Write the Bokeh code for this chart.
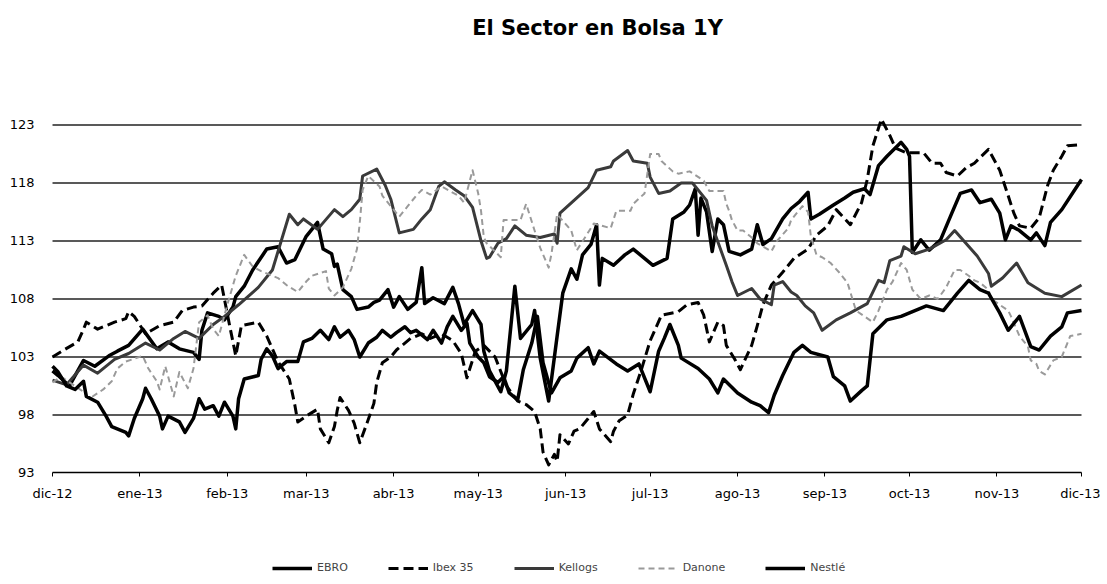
import pandas as pd
from bokeh.plotting import figure
from bokeh.models import FixedTicker, Legend, LegendItem, Range1d, Label
from bokeh.embed import file_html
from bokeh.resources import INLINE

START = "2012-12-01"
END = "2013-12-01"
TITLE = "El Sector en Bolsa 1Y"
MONTH_TICKS = ["2012-12-01", "2013-01-01", "2013-02-01", "2013-03-01", "2013-04-01",
               "2013-05-01", "2013-06-01", "2013-07-01", "2013-08-01", "2013-09-01",
               "2013-10-01", "2013-11-01", "2013-12-01"]
MONTH_LABELS = ["dic-12", "ene-13", "feb-13", "mar-13", "abr-13", "may-13", "jun-13",
                "jul-13", "ago-13", "sep-13", "oct-13", "nov-13", "dic-13"]
Y_TICKS = [93, 98, 103, 108, 113, 118, 123]
Y_MIN = 93

# days since START, and index values
EBRO_DAYS = [0, 2, 6, 11, 15, 20, 23, 27, 32, 37, 41, 45, 50, 52, 53, 55, 59, 61, 64, 65, 68, 71, 76, 80, 83, 86, 90, 94, 96, 99, 100, 101, 103, 106, 108, 112, 114, 116, 119, 121, 123, 126, 129, 131, 132, 135, 139, 142, 144, 146, 149, 152, 153, 155, 159, 161, 164, 166, 170, 171, 173, 176, 179, 181, 184, 186, 188, 191, 193, 194, 195, 199, 203, 206, 210, 213, 218, 220, 224, 226, 228, 229, 230, 232, 234, 236, 238, 240, 244, 248, 250, 252, 255, 259, 262, 265, 268, 269, 272, 277, 281, 284, 288, 290, 293, 296, 301, 303, 304, 305, 308, 311, 315, 319, 322, 326, 329, 333, 336, 338, 340, 343, 347, 349, 352, 354, 358, 365]
EBRO = [101.8, 101.4, 100.5, 102.7, 102.2, 103.1, 103.5, 104.0, 105.4, 103.7, 104.3, 103.7, 103.4, 102.8, 105.3, 106.8, 106.5, 106.2, 107.3, 108.2, 109.1, 110.5, 112.3, 112.5, 111.1, 111.4, 113.4, 114.6, 112.3, 111.9, 110.8, 111.0, 108.8, 108.2, 107.1, 107.3, 107.7, 107.9, 108.8, 107.3, 108.2, 107.1, 107.7, 110.7, 107.6, 108.1, 107.6, 109.0, 107.6, 105.8, 107.0, 105.8, 103.5, 101.8, 100.0, 101.8, 109.1, 104.6, 105.8, 107.0, 102.9, 99.2, 104.8, 108.5, 110.6, 109.7, 111.8, 112.7, 114.4, 109.2, 111.5, 110.9, 111.8, 112.3, 111.5, 110.9, 111.5, 114.9, 115.5, 116.1, 117.5, 113.5, 116.7, 115.5, 112.1, 114.9, 114.4, 112.1, 111.8, 112.3, 114.4, 112.7, 113.2, 114.9, 115.8, 116.4, 117.2, 114.9, 115.3, 116.1, 116.7, 117.2, 117.5, 117.0, 119.5, 120.3, 121.5, 120.9, 120.3, 112.0, 113.1, 112.2, 113.1, 115.4, 117.1, 117.4, 116.3, 116.6, 115.4, 113.1, 114.3, 113.9, 113.1, 113.7, 112.6, 114.6, 115.7, 118.3]

IBEX_DAYS = [0, 4, 9, 11, 12, 16, 19, 22, 26, 27, 29, 33, 38, 43, 46, 50, 53, 57, 60, 63, 65, 67, 73, 76, 80, 84, 86, 87, 90, 94, 95, 98, 100, 101, 102, 105, 107, 109, 112, 114, 115, 117, 120, 122, 125, 127, 131, 134, 138, 142, 145, 147, 150, 153, 157, 161, 165, 168, 171, 173, 174, 176, 178, 179, 180, 183, 185, 187, 190, 192, 194, 198, 199, 201, 204, 206, 209, 212, 216, 222, 225, 229, 231, 233, 236, 238, 239, 242, 244, 248, 250, 252, 255, 259, 263, 268, 271, 275, 278, 283, 287, 289, 291, 294, 297, 299, 303, 309, 312, 315, 317, 321, 324, 327, 332, 334, 336, 339, 341, 343, 347, 350, 353, 355, 358, 360, 365]
IBEX = [103.0, 103.6, 104.3, 105.4, 106.0, 105.4, 105.7, 106.0, 106.3, 106.9, 106.5, 105.0, 105.7, 106.0, 107.0, 107.3, 107.4, 108.5, 109.2, 105.5, 103.1, 105.7, 106.0, 104.8, 102.6, 101.1, 98.8, 97.4, 97.9, 98.5, 96.8, 95.6, 97.0, 98.4, 99.5, 98.4, 97.3, 95.6, 97.6, 99.0, 100.8, 102.5, 103.0, 103.6, 104.2, 104.6, 105.0, 104.6, 105.0, 104.4, 103.3, 101.2, 103.5, 104.0, 103.0, 100.5, 99.2, 98.9, 98.3, 96.8, 94.8, 93.7, 94.6, 94.0, 96.3, 95.5, 96.6, 96.8, 97.7, 98.3, 96.8, 95.7, 96.6, 97.5, 98.0, 99.8, 102.0, 104.4, 106.6, 106.9, 107.5, 107.7, 106.6, 104.3, 106.0, 105.7, 104.0, 102.8, 101.9, 104.0, 105.7, 107.5, 109.2, 110.3, 111.5, 112.3, 113.5, 114.3, 115.7, 114.4, 116.3, 118.3, 121.2, 123.5, 122.1, 121.0, 120.6, 120.6, 119.7, 119.7, 118.9, 118.6, 119.3, 119.7, 120.9, 120.0, 119.1, 116.9, 115.4, 114.3, 114.1, 115.0, 117.8, 119.1, 120.3, 121.2, 121.3]

KELLOGS_DAYS = [0, 5, 11, 16, 22, 27, 33, 38, 43, 47, 52, 57, 61, 66, 73, 78, 84, 87, 89, 94, 100, 103, 106, 109, 110, 115, 118, 120, 123, 128, 131, 134, 137, 139, 143, 146, 149, 152, 154, 155, 158, 161, 164, 168, 173, 178, 179, 180, 185, 190, 193, 198, 199, 204, 206, 211, 212, 215, 219, 223, 227, 232, 234, 239, 241, 243, 248, 251, 255, 256, 259, 262, 264, 267, 270, 273, 278, 283, 289, 293, 295, 297, 301, 302, 306, 311, 317, 320, 324, 328, 332, 333, 337, 342, 346, 352, 358, 365]
KELLOGS = [101.0, 100.6, 102.3, 101.6, 102.8, 103.3, 104.2, 103.6, 104.6, 105.2, 104.6, 105.8, 106.5, 107.5, 109.0, 110.5, 115.3, 114.4, 114.9, 114.0, 115.7, 115.1, 115.7, 116.6, 118.6, 119.2, 117.8, 116.6, 113.7, 114.0, 114.9, 115.7, 117.7, 118.1, 117.4, 116.9, 115.9, 113.0, 111.5, 111.6, 112.8, 113.2, 114.3, 113.5, 113.3, 113.6, 112.8, 115.4, 116.5, 117.6, 119.1, 119.4, 119.9, 120.8, 119.9, 119.7, 118.5, 117.1, 117.3, 118.0, 118.0, 116.5, 114.3, 110.9, 109.5, 108.3, 108.9, 108.0, 107.5, 109.2, 109.5, 108.6, 108.3, 107.4, 106.8, 105.3, 106.2, 106.8, 107.6, 109.6, 109.4, 111.3, 111.7, 112.5, 111.9, 112.3, 113.1, 113.9, 112.8, 111.7, 110.2, 109.1, 109.8, 111.1, 109.4, 108.5, 108.2, 109.2]

DANONE_DAYS = [0, 3, 8, 11, 13, 18, 21, 23, 26, 32, 34, 37, 38, 40, 43, 45, 48, 50, 52, 55, 57, 59, 62, 65, 68, 71, 74, 80, 83, 87, 90, 92, 97, 98, 100, 103, 106, 108, 109, 110, 112, 116, 117, 120, 123, 126, 129, 131, 134, 138, 144, 146, 149, 151, 152, 153, 154, 159, 160, 166, 168, 171, 173, 176, 177, 179, 184, 186, 192, 198, 200, 205, 206, 210, 212, 215, 216, 220, 222, 226, 231, 233, 238, 239, 240, 241, 243, 245, 248, 250, 255, 257, 261, 262, 266, 268, 269, 271, 273, 276, 279, 282, 285, 288, 291, 293, 296, 298, 301, 303, 305, 308, 311, 314, 317, 320, 322, 325, 327, 329, 332, 333, 336, 339, 340, 343, 346, 347, 349, 350, 352, 355, 358, 360, 361, 365]
DANONE = [100.8, 101.3, 100.5, 100.0, 99.4, 100.2, 100.9, 102.0, 102.6, 103.1, 102.0, 100.9, 100.2, 102.2, 99.6, 101.7, 100.3, 102.0, 106.0, 106.6, 105.4, 104.8, 107.5, 110.0, 111.8, 110.8, 110.4, 109.8, 109.2, 108.6, 109.5, 110.0, 110.4, 108.9, 108.3, 109.0, 110.6, 112.3, 114.6, 117.4, 118.6, 117.7, 116.9, 116.0, 115.1, 116.0, 116.9, 117.4, 117.0, 117.7, 116.9, 116.3, 119.1, 117.1, 115.6, 113.3, 112.8, 111.6, 114.8, 114.8, 116.2, 113.9, 112.4, 110.7, 111.9, 115.3, 113.9, 112.2, 114.5, 114.1, 115.6, 115.6, 116.2, 117.1, 120.5, 120.5, 119.9, 119.0, 118.8, 119.0, 118.2, 117.3, 117.3, 116.2, 115.6, 114.8, 113.9, 113.9, 113.3, 112.8, 112.1, 113.0, 114.1, 114.8, 116.0, 115.5, 113.4, 111.8, 111.6, 111.1, 110.3, 109.4, 107.0, 106.5, 106.0, 107.0, 108.8, 109.5, 111.1, 110.5, 108.8, 108.0, 108.3, 108.0, 109.0, 110.5, 110.5, 110.0, 109.6, 109.4, 108.8, 108.0, 107.5, 107.0, 106.5, 104.8, 103.9, 102.7, 102.4, 101.8, 101.5, 102.7, 103.0, 104.2, 104.8, 105.0]

NESTLE_DAYS = [0, 2, 5, 8, 11, 12, 16, 19, 21, 26, 27, 29, 32, 33, 35, 38, 39, 41, 45, 47, 50, 52, 54, 57, 59, 61, 64, 65, 66, 68, 73, 74, 76, 78, 80, 83, 87, 89, 92, 95, 98, 100, 102, 105, 107, 109, 112, 115, 117, 120, 122, 125, 127, 129, 133, 135, 138, 140, 142, 145, 147, 148, 151, 153, 155, 158, 160, 162, 165, 167, 170, 172, 174, 177, 180, 184, 186, 190, 192, 194, 200, 204, 208, 212, 215, 217, 219, 222, 223, 229, 233, 236, 238, 243, 248, 251, 254, 256, 259, 263, 266, 269, 275, 277, 281, 283, 287, 289, 291, 296, 301, 304, 310, 316, 321, 325, 329, 332, 336, 339, 343, 347, 350, 354, 358, 360, 365]
NESTLE = [102.2, 101.7, 100.5, 100.2, 100.9, 99.6, 99.1, 97.9, 97.0, 96.5, 96.2, 97.7, 99.4, 100.3, 99.4, 97.9, 96.8, 97.9, 97.4, 96.5, 97.7, 99.4, 98.5, 98.8, 97.9, 99.1, 97.9, 96.8, 99.4, 101.1, 101.4, 102.8, 103.7, 103.1, 102.0, 102.6, 102.6, 104.3, 104.6, 105.3, 104.5, 105.6, 104.7, 105.3, 104.5, 103.0, 104.2, 104.7, 105.3, 104.7, 105.1, 105.6, 105.1, 105.3, 104.5, 105.3, 104.2, 105.6, 106.5, 105.3, 105.9, 104.2, 103.0, 102.5, 101.3, 100.8, 101.3, 99.9, 99.3, 101.9, 104.2, 106.5, 102.5, 99.9, 101.2, 101.8, 102.9, 103.8, 102.4, 103.5, 102.4, 101.8, 102.4, 100.0, 103.5, 104.6, 105.8, 104.0, 102.9, 102.0, 101.1, 99.9, 101.1, 99.9, 99.1, 98.8, 98.2, 99.7, 101.4, 103.4, 104.0, 103.4, 103.0, 101.3, 100.5, 99.2, 100.1, 100.5, 105.0, 106.2, 106.5, 106.8, 107.4, 107.0, 108.5, 109.6, 108.8, 108.5, 106.8, 105.3, 106.5, 103.9, 103.6, 104.8, 105.6, 106.8, 107.0]

SERIES = [
    ("EBRO", EBRO_DAYS, EBRO, "#000000", 3.5, "solid"),
    ("Ibex 35", IBEX_DAYS, IBEX, "#000000", 3.0, "10 5"),
    ("Kellogs", KELLOGS_DAYS, KELLOGS, "#3a3a3a", 3.0, "solid"),
    ("Danone", DANONE_DAYS, DANONE, "#9a9a9a", 2.0, "6 4"),
    ("Nestlé", NESTLE_DAYS, NESTLE, "#000000", 3.5, "solid"),
]

start = pd.Timestamp(START)
end = pd.Timestamp(END)
start_ms = start.timestamp() * 1000.0
end_ms = end.timestamp() * 1000.0
tick_ms = [pd.Timestamp(t).timestamp() * 1000.0 for t in MONTH_TICKS]

# The frame spans the whole canvas (margins around the data period are part of the
# ranges) so that the title, legend and axis labels all sit inside it.
p = figure(width=1100, height=580, x_axis_type="datetime",
           output_backend="svg", toolbar_location=None,
           x_range=Range1d(start=start - pd.Timedelta(days=18.45), end=end + pd.Timedelta(days=6.74)),
           y_range=Range1d(83.73, 133.73),
           min_border_left=0, min_border_right=0, min_border_top=0, min_border_bottom=0)
p.outline_line_color = None
p.background_fill_color = "white"
p.border_fill_color = "white"
p.xgrid.grid_line_color = None
p.ygrid.grid_line_color = None

# horizontal gridlines across the data period only
grid_levels = Y_TICKS[1:]
p.segment(x0=[start] * len(grid_levels), y0=grid_levels,
          x1=[end] * len(grid_levels), y1=grid_levels,
          line_color="#222222", line_width=1.5)

p.add_layout(Label(x=597, y=553, x_units="screen", y_units="screen", text=TITLE,
                   text_align="center", text_baseline="middle",
                   text_font="DejaVu Sans", text_font_style="bold",
                   text_font_size="21px", text_color="#000000"))

items = []
for name, days, vals, color, width, dash in SERIES:
    xs = [start + pd.Timedelta(days=d) for d in days]
    r = p.line(xs, vals, line_color=color, line_width=width, line_dash=dash,
               line_join="round", line_cap="butt")
    items.append(LegendItem(label=name, renderers=[r]))

legend = Legend(items=items, orientation="horizontal", location=(272, 6),
                label_text_font="DejaVu Sans", label_text_font_size="11px",
                glyph_width=40, glyph_height=12, label_standoff=5, spacing=40,
                padding=0, margin=0, border_line_color=None, background_fill_alpha=0)
p.add_layout(legend, "center")

xa = p.xaxis[0]
xa.fixed_location = Y_MIN
xa.bounds = (start_ms, end_ms)
xa.ticker = FixedTicker(ticks=tick_ms)
xa.major_label_overrides = {t: lab for t, lab in zip(tick_ms, MONTH_LABELS)}
xa.minor_tick_line_color = None
xa.major_tick_out = 4
xa.major_tick_in = 0
xa.axis_line_color = "#000000"
xa.axis_line_width = 1.5
xa.major_label_text_font = "DejaVu Sans"
xa.major_label_text_font_size = "13px"
xa.major_label_text_color = "#000000"
xa.major_label_standoff = 9

ya = p.yaxis[0]
ya.fixed_location = start_ms
ya.ticker = FixedTicker(ticks=Y_TICKS)
ya.minor_tick_line_color = None
ya.major_tick_line_color = None
ya.axis_line_color = None
ya.major_label_text_font = "DejaVu Sans"
ya.major_label_text_font_size = "13px"
ya.major_label_text_color = "#000000"
ya.major_label_standoff = 12

open("out.html", "w").write(file_html(p, INLINE))
